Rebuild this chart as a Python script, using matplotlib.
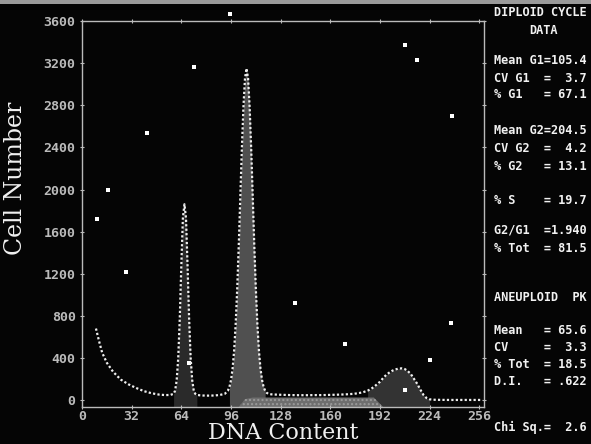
import numpy as np
import matplotlib.pyplot as plt
from matplotlib.patches import Rectangle

# -------------------------------
# Data
# -------------------------------
channel = [9, 11, 13, 16, 20, 25, 30, 35, 40, 45, 50, 54, 57, 59,
           60, 61, 62, 63, 64, 65, 66, 67, 68, 69, 70, 71, 72, 73, 74,
           76, 78, 80, 83, 86, 89, 92, 94, 95,
           96, 97, 98, 99, 100, 101, 102, 103, 104, 105, 106, 107, 108,
           109, 110, 111, 112, 113, 114, 115, 116, 117, 118, 119, 120,
           122, 126, 130, 135, 140, 145, 150, 155, 160, 165, 170, 175,
           178, 181, 184, 186, 188, 190, 192, 194, 196, 198, 200, 202,
           204, 206, 208, 210, 212, 214, 216, 218, 220, 222, 224, 226,
           230, 236, 242, 248, 254, 258]
counts = [680, 560, 450, 355, 270, 195, 150, 115, 85, 65, 52, 48, 50, 60,
          90, 190, 400, 780, 1280, 1730, 1860, 1730, 1280, 780, 400, 190, 90, 60, 50,
          46, 44, 43, 43, 45, 50, 60, 90, 126,
          191, 298, 468, 720, 1058, 1470, 1932, 2390, 2784, 3054, 3150, 3054, 2784,
          2390, 1932, 1470, 1058, 720, 468, 298, 191, 126, 89, 70, 60,
          55, 52, 50, 48, 47, 47, 48, 48, 50, 52, 55, 60,
          66, 75, 90, 105, 125, 150, 175, 210, 240, 262, 280, 292,
          300, 302, 295, 275, 245, 200, 155, 100, 50, 20, 8, 4,
          3, 2, 2, 2, 2, 2]

# S-phase band along the baseline
s_channel = [101, 105, 110, 188, 194]
s_level = [-65, 10, 25, 25, -65]

# scan specks (channel, count)
speck_x = [72.3, 41.9, 16.8, 9.7, 28.4, 208, 238.7, 238, 95.5, 69, 169.7, 208, 224, 216, 137]
speck_y = [3164, 2537, 1995, 1720, 1216, 3373, 2698, 731, 3667, 351, 532, 95, 380, 3230, 921]

x_ticks = [0, 32, 64, 96, 128, 160, 192, 224, 256]
y_ticks = [0, 400, 800, 1200, 1600, 2000, 2400, 2800, 3200, 3600]

panel_lines = [
    ("DIPLOID CYCLE", 12), ("Mean G1=105.4", 61), ("CV G1  =  3.7", 78),
    ("% G1   = 67.1", 95), ("Mean G2=204.5", 130), ("CV G2  =  4.2", 148),
    ("% G2   = 13.1", 166), ("% S    = 19.7", 200), ("G2/G1  =1.940", 230),
    ("% Tot  = 81.5", 248), ("ANEUPLOID  PK", 297), ("Mean   = 65.6", 330),
    ("CV     =  3.3", 347), ("% Tot  = 18.5", 364), ("D.I.   = .622", 381),
    ("Chi Sq.=  2.6", 427),
]

# -------------------------------
# Figure
# -------------------------------
W, H = 591, 444
bg = '#050505'
fig = plt.figure(figsize=(W / 100, H / 100), dpi=100, facecolor=bg)
ax = fig.add_axes([82 / W, 1 - 407 / H, (484 - 82) / W, (407 - 21) / H], facecolor=bg)

ch = np.array(channel)
ct = np.array(counts)

# shaded areas under the peaks
m = (ch >= 59) & (ch <= 74)
ax.fill_between(ch[m], -65, ct[m], color='#2a2a2a', lw=0)
m = (ch >= 95) & (ch <= 118)
ax.fill_between(ch[m], -65, ct[m], color='#505050', lw=0)
m = (ch >= 184) & (ch <= 224)
ax.fill_between(ch[m], -65, ct[m], color='#333333', lw=0)
ax.fill_between(s_channel, -65, s_level, color='#6e6e6e', lw=0, hatch='....',
                edgecolor='#9a9a9a')

ax.plot(ch, ct, color='#eeeeee', lw=1.6, linestyle=(0, (1, 1)))
ax.scatter(speck_x, speck_y, s=5, marker='s', color='white', lw=0, clip_on=False)

ax.set_xlim(0, 259)
ax.set_ylim(-65, 3600)
ax.set_xticks(x_ticks)
ax.set_yticks(y_ticks)
mono = {'family': 'DejaVu Sans Mono', 'weight': 'bold', 'size': 9.5}
ax.set_xticklabels([str(v) for v in x_ticks], fontdict=mono, color='#e8e8e8')
ax.set_yticklabels([str(v) for v in y_ticks], fontdict=mono, color='#e8e8e8')
ax.tick_params(axis='both', colors='#bbbbbb', length=3, width=0.8, direction='inout',
               top=True, right=True)
ax.tick_params(axis='x', pad=0.5)
ax.tick_params(axis='y', pad=3)
for s in ax.spines.values():
    s.set_color('#bbbbbb')
    s.set_linewidth(1.0)

fig.text(16 / W, 1 - 178 / H, 'Cell Number', rotation=90, ha='center', va='center',
         family='DejaVu Serif', fontsize=17, color='#f0f0f0')
fig.text(283 / W, 1 - 439 / H, 'DNA Content', ha='center', va='baseline',
         family='DejaVu Serif', fontsize=16, color='#f0f0f0')

# right-hand results panel
for txt, py in panel_lines:
    fig.text(494 / W, 1 - py / H, txt, ha='left', va='center', family='DejaVu Sans Mono',
             fontweight='bold', fontsize=8.6, color='#f2f2f2')
fig.text(544 / W, 1 - 30 / H, 'DATA', ha='center', va='center', family='DejaVu Sans Mono',
         fontweight='bold', fontsize=8.6, color='#f2f2f2')

# grey scan edge along the top
fig.patches.append(Rectangle((0, 1 - 4 / H), 1, 4 / H, transform=fig.transFigure,
                             color='#9a9a9a', lw=0))

fig.savefig('out.png', dpi=100, facecolor=bg)
